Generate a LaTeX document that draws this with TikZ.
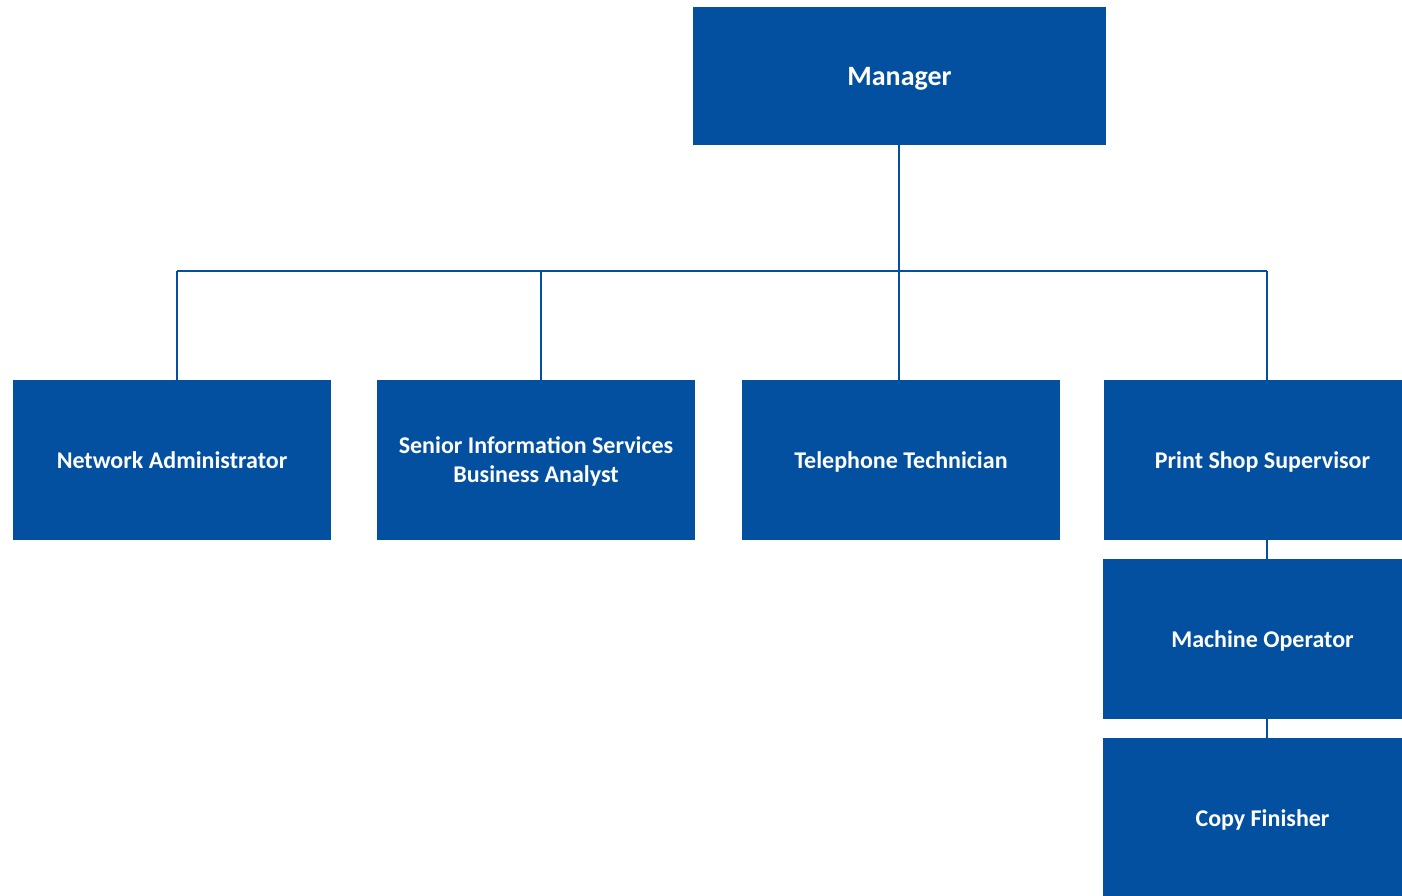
\documentclass[tikz,border=0pt]{standalone}
\usepackage{fontspec}
\setmainfont{Carlito}
\definecolor{boxblue}{HTML}{0450A0}
\begin{document}
\begin{tikzpicture}[x=1pt,y=-1pt,
  role/.style={fill=boxblue, draw=none, text=white, font=\bfseries\fontsize{24}{29}\selectfont, align=center, inner sep=0pt, text depth=0pt},
  lbl/.style={text=white, font=\bfseries\fontsize{24}{29}\selectfont, align=center, inner sep=0pt, text depth=0pt},
  link/.style={draw=boxblue, line width=2pt}]
\useasboundingbox (0,0) rectangle (1402,896);
\node[role, minimum width=413pt, minimum height=138pt, font=\bfseries\fontsize{28}{34}\selectfont] (mgr) at (899.5,76) {Manager};
\node[role, minimum width=318pt, minimum height=160pt] (net) at (172,460) {Network Administrator};
\node[role, minimum width=318pt, minimum height=160pt] (sis) at (536,460) {Senior Information Services\\Business Analyst};
\node[role, minimum width=318pt, minimum height=160pt] (tel) at (901,460) {Telephone Technician};
\node[role, minimum width=298pt, minimum height=160pt] (psp) at (1253,460) {};
\node[role, minimum width=299pt, minimum height=160pt] (mo) at (1252.5,639) {};
\node[role, minimum width=299pt, minimum height=159pt] (cf) at (1252.5,817.5) {};
\node[lbl] (psptxt) at (1262.5,460) {Print Shop Supervisor};
\node[lbl] (motxt) at (1262.5,639) {Machine Operator};
\node[lbl] (cftxt) at (1262.5,818) {Copy Finisher};
\coordinate (bus) at (899,271);
\coordinate (busL) at (177,271);
\coordinate (busS) at (541,271);
\coordinate (busR) at (1266.5,271);
\draw[link] (mgr.south -| bus) -- (bus);
\draw[link] (busL) -- (busR);
\draw[link] (busL) -- (busL |- net.north);
\draw[link] (busS) -- (busS |- sis.north);
\draw[link] (bus) -- (bus |- tel.north);
\draw[link] (busR) -- (busR |- psp.north);
\draw[link] (busR |- psp.south) -- (busR |- mo.north);
\draw[link] (busR |- mo.south) -- (busR |- cf.north);
\end{tikzpicture}
\end{document}
